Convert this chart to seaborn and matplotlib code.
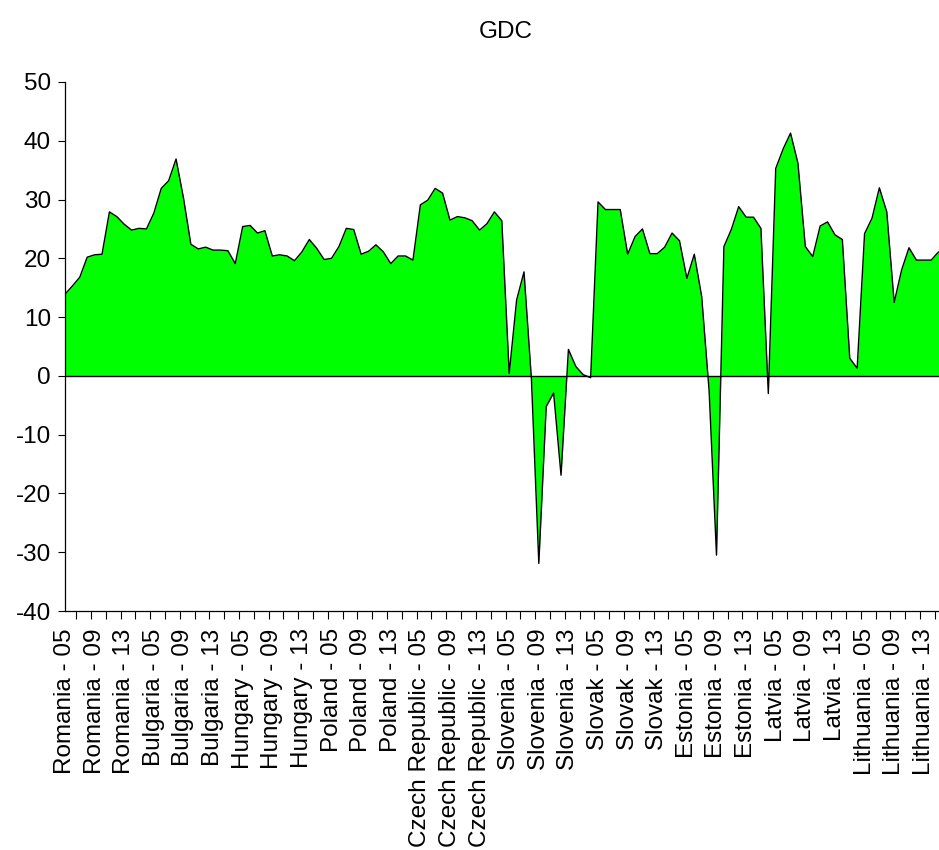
import matplotlib
matplotlib.use("Agg")
import matplotlib.pyplot as plt
import numpy as np
import pandas as pd
import seaborn as sns

# ---- data (2005..2016 per country) ----
countries = ["Romania", "Bulgaria", "Hungary", "Poland", "Czech Republic",
             "Slovenia", "Slovak", "Estonia", "Latvia", "Lithuania"]
years = ["05", "06", "07", "08", "09", "10", "11", "12", "13", "14", "15", "16"]

romania = [13.9, 15.3, 16.8, 20.2, 20.6, 20.7, 27.9, 27.1, 25.8, 24.8, 25.1, 25.0]
bulgaria = [27.7, 31.9, 33.2, 36.9, 30.3, 22.4, 21.6, 21.9, 21.4, 21.4, 21.3, 19.1]
hungary = [25.4, 25.6, 24.3, 24.7, 20.4, 20.6, 20.4, 19.6, 21.1, 23.2, 21.7, 19.8]
poland = [20.0, 22.0, 25.1, 24.9, 20.7, 21.2, 22.3, 21.1, 19.1, 20.4, 20.4, 19.7]
czech = [29.1, 29.9, 31.9, 31.1, 26.5, 27.1, 26.9, 26.4, 24.8, 25.9, 27.9, 26.4]
slovenia = [0.4, 12.9, 17.7, -0.5, -31.9, -5.2, -2.9, -16.9, 4.5, 1.6, 0.2, -0.3]
slovak = [29.6, 28.3, 28.3, 28.3, 20.7, 23.7, 25.0, 20.8, 20.8, 21.9, 24.3, 23.0]
estonia = [16.6, 20.7, 13.5, -2.5, -30.5, 22.0, 24.9, 28.8, 27.0, 27.0, 25.1, -3.0]
latvia = [35.3, 38.6, 41.3, 36.2, 22.0, 20.3, 25.5, 26.2, 24.0, 23.2, 3.0, 1.3]
lithuania = [24.2, 26.8, 32.0, 27.9, 12.5, 18.0, 21.8, 19.7, 19.7, 19.7, 21.1]

series = [romania, bulgaria, hungary, poland, czech,
          slovenia, slovak, estonia, latvia, lithuania]
label_years = ["05", "09", "13"]
yticks = [-40, -30, -20, -10, 0, 10, 20, 30, 40, 50]

# long table: one row per observation
rows = []
for c, vals in zip(countries, series):
    for y, v in zip(years, vals):
        rows.append((f"{c} - {y}", y, v))
df = pd.DataFrame(rows, columns=["label", "year", "value"])
df["obs"] = np.arange(len(df))

#----------------------------------------
sns.set_style("ticks")
plt.rcParams["font.family"] = ["Liberation Sans", "DejaVu Sans"]
plt.rcParams["axes.unicode_minus"] = False
for k in ["text.color", "xtick.color", "ytick.color", "axes.labelcolor"]:
    plt.rcParams[k] = "black"

fig = plt.figure(figsize=(9.39, 8.5), dpi=100)
ax = fig.add_axes([65/939, 239/850, 881/939, 529/850])

ax.fill_between(df["obs"], df["value"], 0, color="#00ff00", lw=0)
sns.lineplot(data=df, x="obs", y="value", color="black", lw=1.0, ax=ax)
ax.axhline(0, color="black", lw=1.0)

ax.set_xlim(0, 119)
ax.set_ylim(-40, 50)
ax.set_yticks(yticks)

lab = df[df["year"].isin(label_years)]
ax.set_xticks(lab["obs"])
ax.set_xticklabels(lab["label"], rotation=90)
ax.set_xticks(np.arange(1.5, 119, 2), minor=True)
ax.tick_params(axis="x", which="major", length=0, pad=12.5, labelsize=17.5,
               labelcolor="black")
ax.tick_params(axis="x", which="minor", length=6, width=0.8, color="black")
ax.tick_params(axis="y", length=5, width=0.8, pad=5, labelsize=17.5,
               color="black", labelcolor="black")

ax.set_xlabel("")
ax.set_ylabel("")
ax.set_title("GDC", fontsize=17.5, pad=32, color="black")
sns.despine(ax=ax)
for s in ["left", "bottom"]:
    ax.spines[s].set_color("black")
    ax.spines[s].set_linewidth(0.9)

fig.savefig("out.png", dpi=100, facecolor="white")
